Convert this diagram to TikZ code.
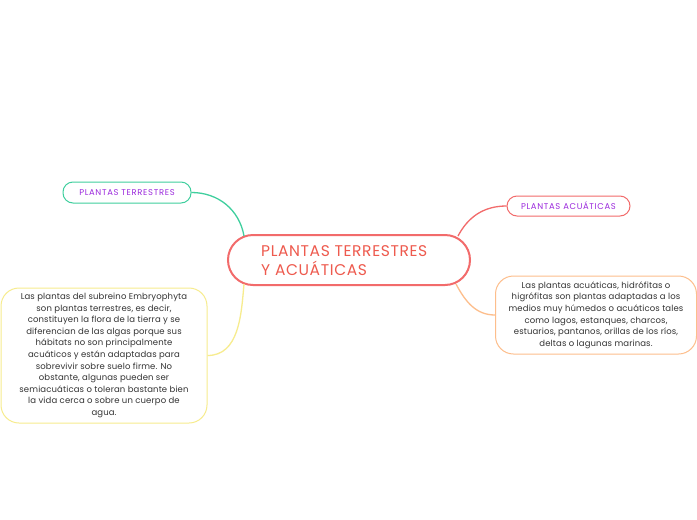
\documentclass[tikz,border=0pt]{standalone}
\usepackage{fontspec}
\setmainfont{Poppins}
\definecolor{ctext}{HTML}{EE5A4E}
\definecolor{cred}{HTML}{F26B6B}
\definecolor{cteal}{HTML}{3FCF9E}
\definecolor{cpurple}{HTML}{9B28DD}
\definecolor{cyellow}{HTML}{F7EC8E}
\definecolor{corange}{HTML}{FDBE8C}
\definecolor{cbody}{HTML}{333333}
\tikzset{
  mainbox/.style={draw=cred, line width=2pt, rounded corners=25pt, minimum width=242pt, minimum height=50pt, inner sep=0pt},
  tagbox/.style={line width=1pt, rounded corners=10pt, inner sep=0pt, text=cpurple, font=\fontsize{8.4}{9}\selectfont\addfontfeature{LetterSpace=8}},
  bodybox/.style={line width=1pt, rounded corners=18pt, inner sep=0pt, align=center, text=cbody, font=\fontsize{8.5}{11.6}\selectfont\addfontfeature{LetterSpace=1.5}},
  link/.style={line width=1.3pt}
}
\begin{document}
\begin{tikzpicture}[x=1pt,y=-1pt]
\useasboundingbox[fill=white] (0,0) rectangle (697,520);
\node[mainbox] (c) at (349,260) {};
\node[anchor=west, align=left, inner sep=0pt, text=ctext, font=\fontsize{15.5}{19}\selectfont\addfontfeature{LetterSpace=4}] (ct) at (261,261) {PLANTAS TERRESTRES\\Y ACUÁTICAS};
\node[tagbox, draw=cteal, minimum width=128pt, minimum height=21pt] (t) at (127,192.5) {PLANTAS TERRESTRES};
\node[tagbox, draw=cred, minimum width=123pt, minimum height=20pt] (a) at (568.5,206) {PLANTAS ACUÁTICAS};
\node[bodybox, draw=cyellow, minimum width=206pt, minimum height=135pt] (y) at (104,355.5) {Las plantas del subreino Embryophyta\\son plantas terrestres, es decir,\\constituyen la flora de la tierra y se\\diferencian de las algas porque sus\\hábitats no son principalmente\\acuáticos y están adaptadas para\\sobrevivir sobre suelo firme. No\\obstante, algunas pueden ser\\semiacuáticas o toleran bastante bien\\la vida cerca o sobre un cuerpo de\\agua.};
\node[bodybox, draw=corange, minimum width=201pt, minimum height=78pt] (r) at (596,315) {Las plantas acuáticas, hidrófitas o\\higrófitas son plantas adaptadas a los\\medios muy húmedos o acuáticos tales\\como lagos, estanques, charcos,\\estuarios, pantanos, orillas de los ríos,\\deltas o lagunas marinas.};
\draw[link, cteal] ([xshift=17pt,yshift=-2pt]c.north west) to[out=100,in=0] (t.east);
\draw[link, cyellow] ([xshift=17pt,yshift=2pt]c.south west) to[out=-95,in=0] (y.east);
\draw[link, cred] ([xshift=-13pt,yshift=-2pt]c.north east) to[out=62,in=180] (a.west);
\draw[link, corange] ([xshift=-15pt,yshift=2pt]c.south east) to[out=-62,in=180] (r.west);
\end{tikzpicture}
\end{document}
